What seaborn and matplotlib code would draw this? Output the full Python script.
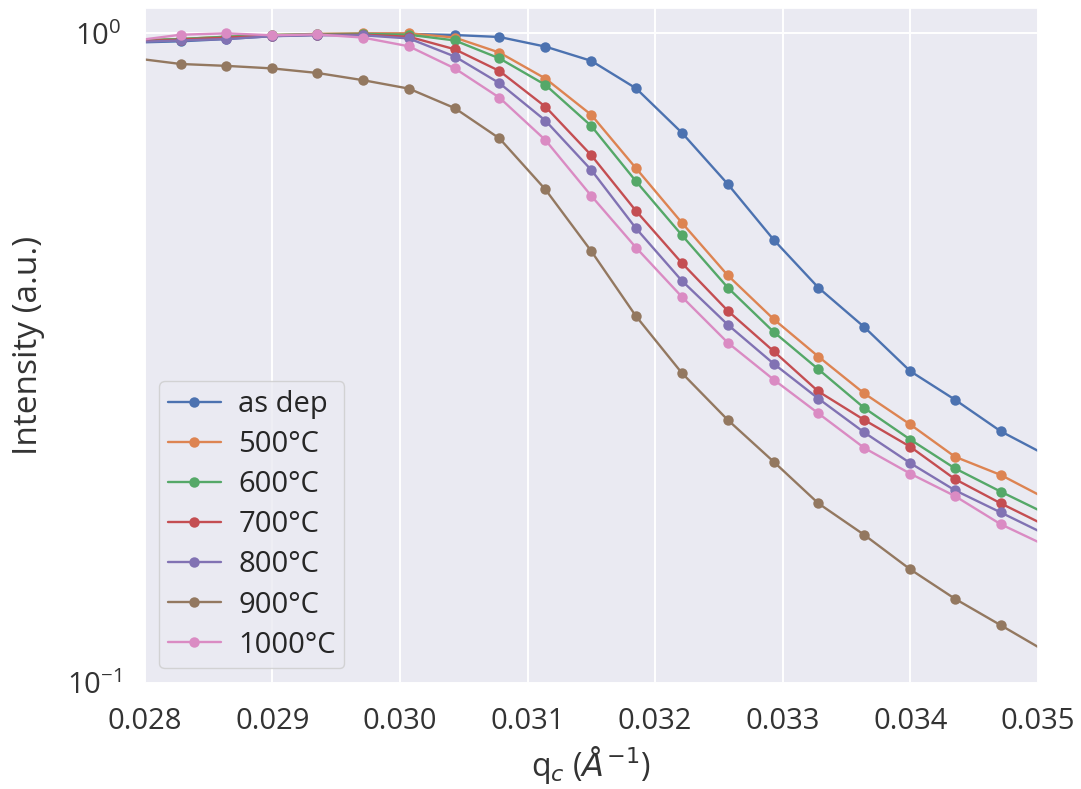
import matplotlib
matplotlib.use("Agg")
import matplotlib.pyplot as plt
import seaborn as sns
import pandas as pd
from matplotlib.ticker import NullFormatter, FixedLocator

# ---- data ----
q = [0.02793, 0.02828, 0.02864, 0.02900, 0.02935, 0.02971, 0.03007, 0.03043,
     0.03078, 0.03114, 0.03150, 0.03185, 0.03221, 0.03257, 0.03293, 0.03328,
     0.03364, 0.03400, 0.03435, 0.03471, 0.03507]

as_dep = [0.968, 0.972, 0.980, 0.990, 0.995, 0.998, 0.998, 0.994, 0.987, 0.954,
          0.907, 0.823, 0.703, 0.586, 0.481, 0.406, 0.353, 0.302, 0.273, 0.244, 0.224]
t500 = [0.975, 0.980, 0.988, 0.994, 0.998, 1.000, 1.000, 0.985, 0.934, 0.852,
        0.749, 0.620, 0.511, 0.424, 0.363, 0.318, 0.279, 0.250, 0.223, 0.209, 0.192]
t600 = [0.975, 0.980, 0.988, 0.994, 0.997, 0.998, 0.995, 0.975, 0.915, 0.833,
        0.720, 0.592, 0.489, 0.406, 0.347, 0.304, 0.265, 0.237, 0.214, 0.197, 0.182]
t700 = [0.972, 0.978, 0.985, 0.992, 0.995, 0.995, 0.988, 0.945, 0.875, 0.771,
        0.649, 0.533, 0.443, 0.374, 0.324, 0.281, 0.254, 0.231, 0.206, 0.189, 0.1744]
t800 = [0.970, 0.975, 0.980, 0.990, 0.993, 0.993, 0.982, 0.921, 0.838, 0.734,
        0.616, 0.501, 0.416, 0.356, 0.310, 0.274, 0.243, 0.218, 0.198, 0.183, 0.169]
t900 = [0.915, 0.897, 0.891, 0.883, 0.869, 0.847, 0.822, 0.767, 0.689, 0.575,
        0.462, 0.367, 0.300, 0.254, 0.219, 0.189, 0.169, 0.1496, 0.1348, 0.1227, 0.1116]
t1000 = [0.975, 0.995, 1.000, 0.993, 0.996, 0.985, 0.955, 0.883, 0.796, 0.685,
         0.562, 0.468, 0.393, 0.334, 0.293, 0.260, 0.230, 0.210, 0.194, 0.1755, 0.1625]

labels = ["as dep", "500°C", "600°C", "700°C", "800°C", "900°C", "1000°C"]
series = [as_dep, t500, t600, t700, t800, t900, t1000]
xticks = [0.028, 0.029, 0.030, 0.031, 0.032, 0.033, 0.034, 0.035]
xticklabels = ["0.028", "0.029", "0.030", "0.031", "0.032", "0.033", "0.034", "0.035"]

# ---- style ----
sns.set_theme(style="darkgrid", palette="deep")
plt.rcParams["font.family"] = ["Open Sans", "DejaVu Sans"]
plt.rcParams["grid.linewidth"] = 1.4

colors = sns.color_palette("deep", len(labels))

fig, ax = plt.subplots(figsize=(10.81, 7.89), dpi=100)
fig.subplots_adjust(left=0.134, right=0.960, bottom=0.1344, top=0.9899)

for lab, vals, c in zip(labels, series, colors):
    df = pd.DataFrame({"q": q, "I": vals})
    sns.lineplot(data=df, x="q", y="I", ax=ax, color=c, label=lab,
                 marker="o", markersize=7.5, markeredgewidth=0,
                 linewidth=1.7, sort=False, estimator=None)

ax.set_yscale("log")
ax.set_ylim(0.1, 1.094)
ax.set_xlim(0.028, 0.035)
ax.set_xticks(xticks)
ax.set_xticklabels(xticklabels)
ax.yaxis.set_major_locator(FixedLocator([0.1, 1.0]))
ax.yaxis.set_minor_formatter(NullFormatter())
ax.tick_params(axis="both", which="both", length=0, labelsize=21, pad=17,
               labelcolor="#333333")

ax.set_xlabel(r"q$_c$ ($Å^{-1}$)", fontsize=23, color="#333333", labelpad=6)
ax.set_ylabel("Intensity (a.u.)", fontsize=24, color="#333333", labelpad=16)

ax.legend(loc="lower left", fontsize=21, labelspacing=0.38,
          handlelength=1.8, handletextpad=0.6, borderpad=0.3,
          borderaxespad=0.5)

fig.savefig("out.png", dpi=100)
